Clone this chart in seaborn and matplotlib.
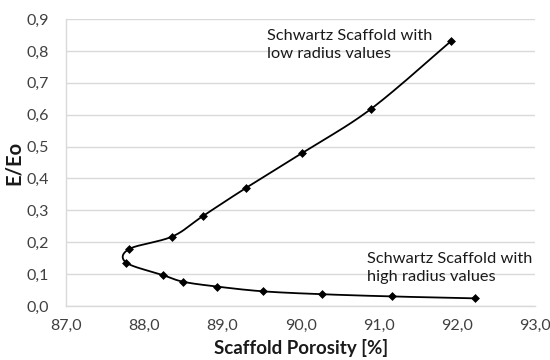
import numpy as np
import pandas as pd
import matplotlib
matplotlib.use("Agg")
import matplotlib.pyplot as plt
from matplotlib.ticker import FuncFormatter, MultipleLocator
import seaborn as sns

porosity = [91.92, 90.90, 90.02, 89.30, 88.75, 88.36, 87.81, 87.77,
            88.24, 88.50, 88.93, 89.52, 90.27, 91.17, 92.23]
e_ratio = [0.830, 0.618, 0.480, 0.370, 0.282, 0.218, 0.179, 0.136,
           0.097, 0.076, 0.061, 0.046, 0.037, 0.030, 0.024]
label_low = "Schwartz Scaffold with\nlow radius values"
label_high = "Schwartz Scaffold with\nhigh radius values"
x_label = "Scaffold Porosity [%]"
y_label = "E/Eo"

sns.set_theme(style="white")
plt.rcParams['font.family'] = ['Lato', 'DejaVu Sans']

def smooth(xs, ys, n=20):
    # Catmull-Rom style smoothing of the line through the data (display style only)
    P = np.column_stack([xs, ys]).astype(float)
    sx, sy = 1 / 6.0, 1 / 0.9 * (287 / 469)
    Q = P * [sx, sy]
    pts = [Q[0]] + list(Q) + [Q[-1]]
    out = []
    for i in range(1, len(pts) - 2):
        p0, p1, p2, p3 = pts[i - 1], pts[i], pts[i + 1], pts[i + 2]
        c1 = p1 + (p2 - p0) / 6.0
        c2 = p2 - (p3 - p1) / 6.0
        t = np.linspace(0, 1, n)[:, None]
        seg = ((1 - t) ** 3) * p1 + 3 * ((1 - t) ** 2) * t * c1 + 3 * (1 - t) * t ** 2 * c2 + t ** 3 * p2
        out.append(seg if i == 1 else seg[1:])
    S = np.vstack(out) / [sx, sy]
    return S[:, 0], S[:, 1]

sxv, syv = smooth(porosity, e_ratio)
curve = pd.DataFrame({"x": sxv, "y": syv})
pts = pd.DataFrame({"x": porosity, "y": e_ratio})

fig = plt.figure(figsize=(5.5, 3.6), dpi=100)
ax = fig.add_axes([0.12, 0.15, 0.853, 0.797])
sns.lineplot(data=curve, x="x", y="y", sort=False, estimator=None, color="black", linewidth=1.3, ax=ax)
sns.scatterplot(data=pts, x="x", y="y", marker="D", s=16, color="black", edgecolor="black", linewidth=0.5, ax=ax, zorder=3)

ax.set_xlim(87, 93)
ax.set_ylim(0, 0.9)
ax.xaxis.set_major_locator(MultipleLocator(1))
ax.yaxis.set_major_locator(MultipleLocator(0.1))
ax.xaxis.set_major_formatter(FuncFormatter(lambda v, p: f"{v:.1f}".replace(".", ",")))
ax.yaxis.set_major_formatter(FuncFormatter(lambda v, p: f"{v:.1f}".replace(".", ",")))
ax.grid(axis="y", color="#d9d9d9", linewidth=1)
ax.grid(axis="x", visible=False)
for s in ["top", "right"]:
    ax.spines[s].set_visible(False)
for s in ["left", "bottom"]:
    ax.spines[s].set_color("#d9d9d9")
    ax.spines[s].set_linewidth(1)
ax.tick_params(axis="x", length=0, labelsize=11.5, colors="#404040", pad=9)
ax.tick_params(axis="y", length=0, labelsize=11.5, colors="#404040", pad=12)
ax.set_xlabel(x_label, fontsize=13.5, fontweight="bold", color="#1a1a1a", labelpad=5)
ax.set_ylabel(y_label, fontsize=14.5, fontweight="bold", color="#1a1a1a", labelpad=2)

ax.text(89.57, 0.868, label_low, fontsize=11.8, va="top", ha="left", color="#1a1a1a", linespacing=1.3)
ax.text(90.85, 0.168, label_high, fontsize=11.8, va="top", ha="left", color="#1a1a1a", linespacing=1.3)

fig.savefig("out.png", dpi=100)
